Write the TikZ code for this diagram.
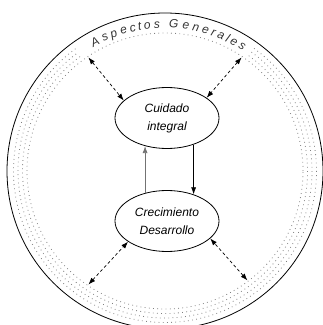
\documentclass[tikz,border=0pt]{standalone}
\usepackage{fontspec}
\setmainfont{Liberation Sans}
\usetikzlibrary{calc,shapes.geometric,arrows.meta,decorations.text}

\tikzset{
  elipse/.style={ellipse, draw, line width=0.8pt, minimum width=104pt, minimum height=61pt,
    inner sep=0pt, align=center, font=\fontsize{12}{18}\selectfont\itshape},
  flecha/.style={line width=0.7pt, -{Latex[length=7pt,width=5pt]}},
  doble/.style={line width=0.7pt, dash pattern=on 3pt off 2.5pt,
    {Latex[length=7pt,width=5pt]}-{Latex[length=7pt,width=5pt]}},
  anillo/.style={black!50, line width=0.8pt, dash pattern=on 0.8pt off 3.4pt}
}

\begin{document}
\begin{tikzpicture}[x=1pt,y=1pt]
        \useasboundingbox (0,0) rectangle (323,325);
        % Centro del circulo grande
        \coordinate (O) at (165,154);
        % Dibujamos el circulo exterior
        \draw[line width=0.8pt] (O) circle (158);
        % Anillo punteado interior, completo
        \draw[anillo] (O) circle (138);
        % Anillos punteados exteriores, cortados arriba por el texto
        \foreach \r in {142.5,147,151.5}
            \draw[anillo] ($(O)+(54:\r)$) arc[start angle=54, end angle=-234, radius=\r];
        % Escribimos el texto sobre el arco
        \path[font=\fontsize{12}{12}\selectfont\itshape, text=black!80,
            decorate, decoration={text effects along path, text={Aspectos Generales},
            text effects/.cd, text along path, fit text to path,
            characters={text along path, font=\fontsize{12}{12}\selectfont\itshape, text=black!80}}]
            ($(O)+(120:143)$) arc[start angle=120, end angle=57, radius=143];
        % Las dos elipses
        \node[elipse] (cuid) at (167,207) {Cuidado\\integral};
        \node[elipse] (crec) at (167,104) {Crecimiento\\Desarrollo};
        % Puntos sobre el anillo donde llegan las flechas
        \coordinate (T1) at ($(O)+(124:137)$);
        \coordinate (T2) at ($(O)+(56:137)$);
        \coordinate (T3) at ($(O)+(236:137)$);
        \coordinate (T4) at ($(O)+(307:137)$);
        % Flechas dobles punteadas
        \draw[doble] (T1) -- (cuid.158);
        \draw[doble] (T2) -- (cuid.27);
        \draw[doble] (T3) -- (crec.208);
        \draw[doble] (T4) -- (crec.338);
        % Flechas verticales entre las elipses
        \draw[flecha, black!55] (crec.128) -- (cuid.232);
        \draw[flecha] (cuid.-45) -- (crec.45);
\end{tikzpicture}
\end{document}
